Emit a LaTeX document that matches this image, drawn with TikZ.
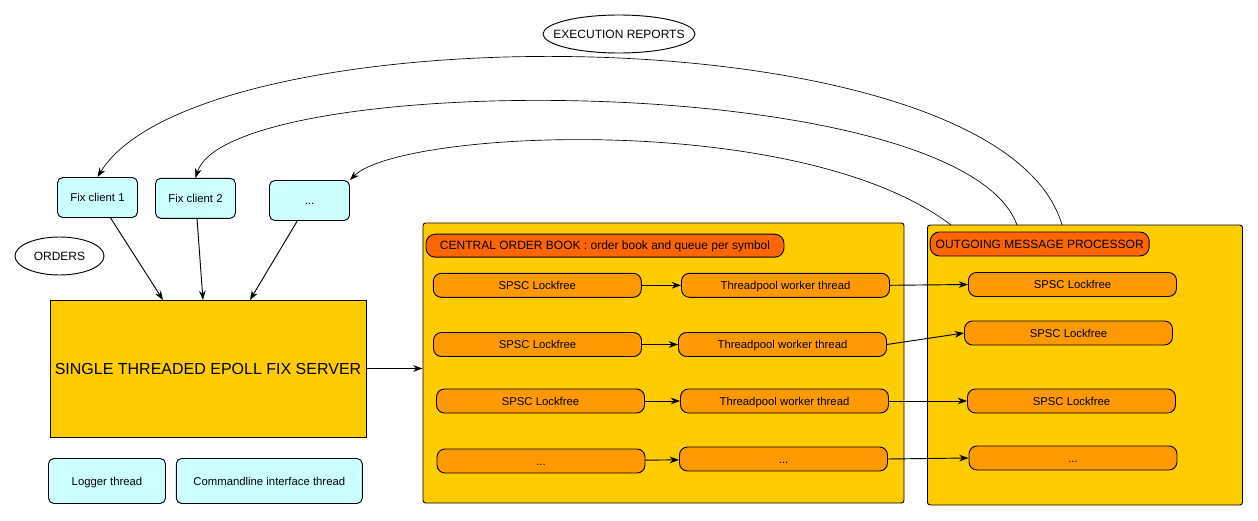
\documentclass[tikz,border=0pt]{standalone}
\usepackage{fontspec}
\setmainfont{Liberation Sans}
\usepackage{xcolor}
\usetikzlibrary{arrows.meta, positioning}
\definecolor{clientcyan}{HTML}{CCFFFF}
\definecolor{panelyellow}{HTML}{FFCC00}
\definecolor{queueorange}{HTML}{FF9900}
\definecolor{titleorange}{HTML}{FF6600}

\begin{document}
\begin{tikzpicture}[x=0.75pt, y=-0.75pt, line width=0.7pt, >={Stealth[length=7pt, width=5pt]},
    client/.style={draw, rounded corners=4pt, fill=clientcyan, minimum width=60pt, minimum height=30pt, text height=1.6ex, text depth=0.4ex, font=\fontsize{8.5}{10}\selectfont},
    panel/.style={draw, rounded corners=2pt, fill=panelyellow, minimum width=360pt, minimum height=210pt},
    paneltitle/.style={draw, rounded corners=7pt, fill=titleorange, text height=1.6ex, text depth=0.4ex, font=\fontsize{9}{11}\selectfont},
    queue/.style={draw, rounded corners=6pt, fill=queueorange, minimum width=156pt, minimum height=18pt, text height=1.6ex, text depth=0.4ex, font=\fontsize{8.5}{10}\selectfont},
    note/.style={font=\fontsize{9}{11}\selectfont}]
    \useasboundingbox (0,0) rectangle (1258,521);

    % labels
    \node[note] (reports) at (619,34) {EXECUTION REPORTS};
    \draw (reports) ellipse [x radius=57pt, y radius=14.25pt];
    \node[note] (orders) at (59.5,256) {ORDERS};
    \draw (orders) ellipse [x radius=33.4pt, y radius=14.25pt];

    % clients and server
    \node[client] (fc1) at (97.5,197.5) {Fix client 1};
    \node[client] (fc2) at (195.5,198.3) {Fix client 2};
    \node[client] (fcn) at (309.5,200.5) {...};
    \node[draw, fill=panelyellow, minimum width=237pt, minimum height=102.75pt, font=\fontsize{12}{14}\selectfont] (server) at (208,368.5) {SINGLE THREADED EPOLL FIX SERVER};
    \node[client, minimum width=87.75pt, minimum height=33.75pt] (logger) at (107,481) {Logger thread};
    \node[client, minimum width=139.5pt, minimum height=33.75pt] (cli) at (269.3,481) {Commandline interface thread};

    % central order book
    \node[panel, minimum width=360.75pt] (book) at (663.5,363) {};
    \node[paneltitle, minimum width=268.5pt, minimum height=15.75pt] (booktitle) at (605,245.7) {CENTRAL ORDER BOOK : order book and queue per symbol};
    \node[queue] (q1) at (537.3,285.3) {SPSC Lockfree};
    \node[queue] (q2) at (537.5,344.5) {SPSC Lockfree};
    \node[queue] (q3) at (540.5,401) {SPSC Lockfree};
    \node[queue] (q4) at (541,461) {...};
    \node[queue] (w1) at (785.5,285.3) {Threadpool worker thread};
    \node[queue] (w2) at (782.5,344.5) {Threadpool worker thread};
    \node[queue] (w3) at (784.5,401) {Threadpool worker thread};
    \node[queue] (w4) at (783.5,459) {...};

    % outgoing processor
    \node[panel, minimum width=236.25pt] (out) at (1085,365) {};
    \node[paneltitle, minimum width=164.25pt, minimum height=18pt] (outtitle) at (1039.7,244) {OUTGOING MESSAGE PROCESSOR};
    \node[queue] (o1) at (1072.5,284.5) {SPSC Lockfree};
    \node[queue] (o2) at (1068.5,333) {SPSC Lockfree};
    \node[queue] (o3) at (1071.5,401) {SPSC Lockfree};
    \node[queue] (o4) at (1073,458) {...};

    \coordinate (in1) at (163,300);
    \coordinate (in2) at (203,300);
    \coordinate (in3) at (250,300);
    \coordinate (rep1) at (1062,225);
    \coordinate (rep2) at (1017,225);
    \coordinate (rep3) at (951,225);

    \draw[->] (fc1) -- (in1);
    \draw[->] (fc2) -- (in2);
    \draw[->] (fcn) -- (in3);
    \draw[->] (server) -- (server -| book.west);

    \draw[->] (q1) -- (w1);
    \draw[->] (q2) -- (w2);
    \draw[->] (q3) -- (w3);
    \draw[->] (q4) -- (w4);
    \draw[->] (w1.east) -- (o1.west);
    \draw[->] (w2.east) -- (o2.west);
    \draw[->] (w3.east) -- (o3.west);
    \draw[->] (w4.east) -- (o4.west);

    % execution reports back to the clients
    \draw[->, line width=0.5pt] (rep1) .. controls (1000,10) and (200,10) .. (fc1.north);
    \draw[->, line width=0.5pt] (rep2) .. controls (960,69) and (230,69) .. (fc2.north);
    \draw[->, line width=0.5pt] (rep3) .. controls (800,110) and (400,130) .. (fcn.north east);
  \end{tikzpicture}
\end{document}
